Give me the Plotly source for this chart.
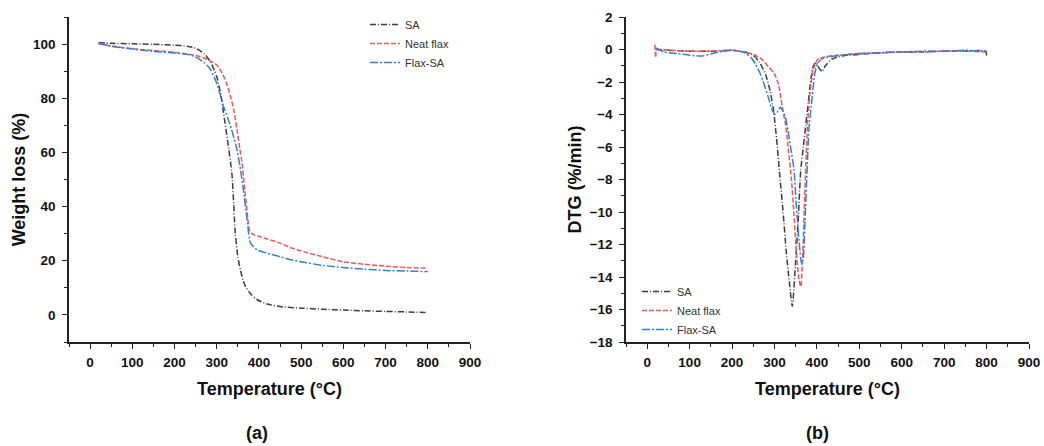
import plotly.graph_objects as go

# ---- TGA (weight loss, %) ----
sa_tga_t = [20, 50, 100, 150, 200, 230, 250, 270, 285, 300, 310, 316, 326, 336, 344, 350, 356, 362, 368, 380, 396, 420, 450, 500, 550, 600, 650, 700, 750, 800]
sa_tga_v = [100.5, 100.3, 100.1, 99.9, 99.6, 99.2, 98.5, 96.5, 93.5, 88, 81, 74.7, 64, 52, 30, 21.5, 16.7, 13, 10.5, 7.8, 5.6, 4.0, 3.1, 2.5, 2.1, 1.8, 1.5, 1.3, 1.1, 0.9]

flax_tga_t = [20, 50, 100, 150, 200, 250, 280, 300, 312, 322, 332, 340, 348, 355, 360, 366, 372, 378, 385, 400, 420, 450, 475, 500, 550, 600, 650, 700, 750, 800]
flax_tga_v = [100.2, 99.3, 98.3, 97.6, 97.0, 95.8, 94.2, 92.3, 89.5, 86, 81, 76, 68.5, 61, 56, 47, 38, 31, 29.8, 29, 28, 26.5, 24.8, 23.6, 21.5, 19.6, 18.7, 18.0, 17.5, 17.2]

flaxsa_tga_t = [20, 50, 100, 150, 200, 230, 250, 270, 285, 300, 316, 330, 345, 355, 365, 372, 380, 396, 420, 450, 475, 500, 550, 600, 650, 700, 750, 800]
flaxsa_tga_v = [100.2, 99.2, 98.2, 97.3, 96.7, 96.2, 95.2, 93.2, 90.7, 85.5, 77, 71, 63, 55, 44, 35, 26.5, 24, 22.8, 21.5, 20.4, 19.6, 18.3, 17.5, 16.9, 16.4, 16.2, 16.0]

# ---- DTG (%/min) ----
sa_dtg_t = [20, 50, 100, 150, 200, 230, 250, 265, 280, 290, 298, 305, 312, 320, 328, 335, 342, 350, 356, 362, 368, 374, 380, 386, 392, 398, 405, 412, 420, 435, 460, 500, 550, 600, 650, 700, 750, 798, 800]
sa_dtg_v = [0.0, -0.05, -0.1, -0.1, -0.05, -0.15, -0.35, -0.8, -1.6, -2.6, -3.8, -5.5, -7.6, -9.9, -12.5, -14.3, -15.8, -13.0, -10.5, -7.4, -6.0, -4.6, -3.2, -1.8, -1.0, -0.8, -1.15, -1.35, -1.0, -0.6, -0.4, -0.3, -0.2, -0.15, -0.15, -0.1, -0.1, -0.1, -0.45]

flax_dtg_t = [18, 20, 22, 50, 100, 150, 200, 230, 250, 270, 287, 300, 310, 318, 326, 333, 340, 346, 352, 358, 362, 366, 370, 374, 378, 384, 392, 402, 420, 450, 500, 550, 600, 650, 700, 750, 800]
flax_dtg_v = [0.3, -0.5, 0.0, -0.05, -0.1, -0.1, -0.05, -0.15, -0.3, -0.6, -1.1, -1.5, -2.2, -3.5, -4.6, -6.2, -8.0, -10.2, -12.6, -14.2, -14.6, -13.0, -10.0, -7.0, -4.6, -2.6, -1.2, -0.6, -0.45, -0.35, -0.25, -0.2, -0.15, -0.15, -0.1, -0.1, -0.15]

flaxsa_dtg_t = [20, 40, 70, 100, 130, 160, 200, 230, 245, 255, 265, 275, 285, 295, 302, 308, 314, 320, 326, 332, 338, 346, 352, 358, 364, 368, 372, 377, 381, 389, 395, 401, 410, 430, 460, 500, 550, 600, 650, 700, 750, 800]
flaxsa_dtg_v = [0.1, -0.15, -0.25, -0.35, -0.4, -0.2, -0.05, -0.2, -0.5, -0.9, -1.4, -2.1, -2.9, -3.75, -4.0, -3.8, -3.55, -3.8, -4.2, -5.0, -6.0, -7.4, -9.8, -11.8, -13.2, -12.8, -10.5, -7.4, -5.0, -2.9, -1.5, -0.9, -0.6, -0.45, -0.35, -0.25, -0.2, -0.15, -0.1, -0.1, -0.05, -0.1]

names = ["SA", "Neat flax", "Flax-SA"]
colors = ["#3d3d3d", "#f25757", "#2f80d6"]
dashes = ["6px,2px,1px,2px", "5px,2px", "8px,2px,2px,2px"]

tga = [(sa_tga_t, sa_tga_v), (flax_tga_t, flax_tga_v), (flaxsa_tga_t, flaxsa_tga_v)]
dtg = [(sa_dtg_t, sa_dtg_v), (flax_dtg_t, flax_dtg_v), (flaxsa_dtg_t, flaxsa_dtg_v)]

fig = go.Figure()
for (t, v), n, c, d in zip(tga, names, colors, dashes):
    fig.add_trace(go.Scatter(x=t, y=v, name=n, mode="lines", xaxis="x", yaxis="y",
                             line=dict(color=c, width=1.5, dash=d, shape="spline", smoothing=0.6),
                             legend="legend"))
for (t, v), n, c, d in zip(dtg, names, colors, dashes):
    fig.add_trace(go.Scatter(x=t, y=v, name=n, mode="lines", xaxis="x2", yaxis="y2",
                             line=dict(color=c, width=1.5, dash=d, shape="spline", smoothing=0.6),
                             legend="legend2"))

FONT = "Liberation Sans, Arial, sans-serif"
W, H = 1044, 446
ytop, ybot = 17, 342
dom_y = [(H - ybot) / H, (H - ytop) / H]

tickfont = dict(family=FONT, size=13.5, color="#111", weight="bold")
titlefont = dict(family=FONT, size=18, color="#111", weight="bold")

def xax(domain, anchor):
    return dict(domain=domain, anchor=anchor, range=[-50, 900], dtick=100, tick0=0,
                showgrid=False, zeroline=False, showline=True, linecolor="#222", linewidth=1.5,
                ticks="outside", ticklen=5, tickwidth=1.3, tickcolor="#222", tickfont=tickfont,
                ticklabelstandoff=2,
                minor=dict(ticks="outside", ticklen=3, dtick=50, tick0=0, tickcolor="#222", tickwidth=1.2),
                title=dict(text="Temperature (°C)", font=titlefont, standoff=13), automargin=False)

def yax(domain, anchor, rng, dt, mdt, title, standoff):
    return dict(domain=domain, anchor=anchor, range=rng, dtick=dt, tick0=0,
                showgrid=False, zeroline=False, showline=True, linecolor="#222", linewidth=1.5,
                ticks="outside", ticklen=5, tickwidth=1.3, tickcolor="#222", tickfont=tickfont,
                ticklabelstandoff=4,
                minor=dict(ticks="outside", ticklen=3, dtick=mdt, tick0=0, tickcolor="#222", tickwidth=1.2),
                title=dict(text=title, font=titlefont, standoff=standoff), automargin=False)

xa = [69 / W, 470 / W]
xb = [626 / W, 1029 / W]

legfont = dict(family=FONT, size=11, color="#333")
fig.update_layout(
    width=W, height=H, margin=dict(l=0, r=0, t=0, b=0),
    paper_bgcolor="white", plot_bgcolor="white",
    xaxis=xax(xa, "y"),
    yaxis=yax(dom_y, "x", [-10, 110], 20, 10, "Weight loss (%)", 3),
    xaxis2=xax(xb, "y2"),
    yaxis2=yax(dom_y, "x2", [-18, 2], 2, 1, "DTG (%/min)", 3),
    legend=dict(x=365 / W, y=1 - 10 / H, xanchor="left", yanchor="top", font=legfont,
                bgcolor="rgba(0,0,0,0)", itemwidth=30, tracegroupgap=0),
    legend2=dict(x=637 / W, y=1 - 277 / H, xanchor="left", yanchor="top", font=legfont,
                 bgcolor="rgba(0,0,0,0)", itemwidth=30, tracegroupgap=0),
    annotations=[
        dict(text="(a)", x=257 / W, y=1 - 433 / H, xref="paper", yref="paper", showarrow=False,
             font=titlefont, xanchor="center", yanchor="middle"),
        dict(text="(b)", x=817 / W, y=1 - 433 / H, xref="paper", yref="paper", showarrow=False,
             font=titlefont, xanchor="center", yanchor="middle"),
    ],
)

fig.write_html("out.html")
